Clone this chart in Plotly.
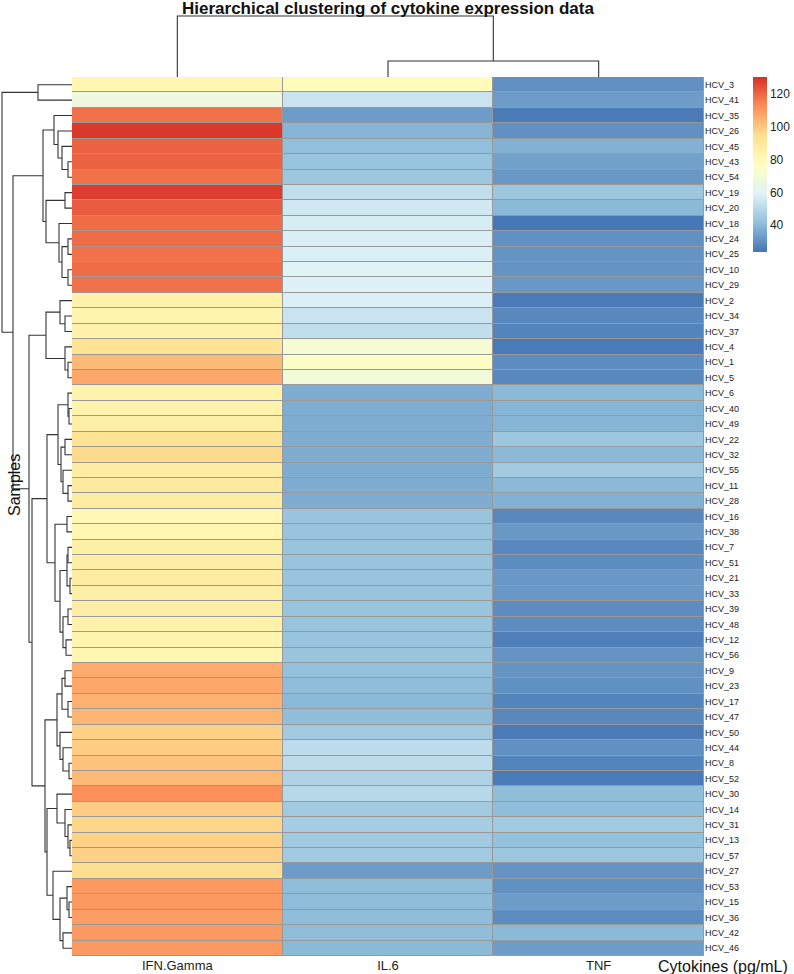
import plotly.graph_objects as go

W, H = 794, 974
FONT = "Liberation Sans, Arial, Helvetica, sans-serif"

# ---------------- data ----------------
samples = ["HCV_3", "HCV_41", "HCV_35", "HCV_26", "HCV_45", "HCV_43", "HCV_54", "HCV_19",
           "HCV_20", "HCV_18", "HCV_24", "HCV_25", "HCV_10", "HCV_29", "HCV_2", "HCV_34",
           "HCV_37", "HCV_4", "HCV_1", "HCV_5", "HCV_6", "HCV_40", "HCV_49", "HCV_22",
           "HCV_32", "HCV_55", "HCV_11", "HCV_28", "HCV_16", "HCV_38", "HCV_7", "HCV_51",
           "HCV_21", "HCV_33", "HCV_39", "HCV_48", "HCV_12", "HCV_56", "HCV_9", "HCV_23",
           "HCV_17", "HCV_47", "HCV_50", "HCV_44", "HCV_8", "HCV_52", "HCV_30", "HCV_14",
           "HCV_31", "HCV_13", "HCV_57", "HCV_27", "HCV_53", "HCV_15", "HCV_36", "HCV_42",
           "HCV_46"]
cytokines = ["IFN.Gamma", "IL.6", "TNF"]

ifn_gamma = [82, 67, 118, 129, 121, 121, 118, 128, 122, 119, 119, 118, 119, 118, 85, 83,
             85, 93, 103, 107, 84, 84, 86, 93, 96, 88, 89, 88, 81, 82, 86, 87,
             88, 86, 87, 85, 83, 82, 106, 107, 105, 104, 98, 99, 101, 103, 112, 99,
             97, 98, 98, 95, 110, 110, 109, 110, 110]
il_6 = [79, 54, 33, 39, 41.5, 43, 44, 52, 55.5, 57, 57.5, 58, 60, 58.5, 58, 54,
        52, 71, 75, 69, 37, 37, 37, 37, 37, 37, 37, 37, 43, 43, 43, 43,
        43, 43, 43, 43, 43, 43, 42, 41, 40, 41, 45, 51, 51, 48, 50, 45,
        46, 45, 45, 33, 41, 41, 41, 41, 40]
tnf = [30, 33, 25, 30, 38, 34, 32, 44, 40, 24, 30, 31, 31, 32, 25, 28,
       27, 25, 29, 28, 40, 39, 39, 44, 40, 45, 40, 38, 28, 32, 28, 29,
       32, 32, 29, 29, 26, 31, 31, 30, 27, 28, 25, 30, 27, 25, 41, 41,
       45, 42, 44, 31, 30, 33, 29, 40, 33]

z_min, z_max = 23.5, 130.5
colorbar_ticks = [40, 60, 80, 100, 120]
palette = ["#4575B4", "#91BFDB", "#E0F3F8", "#FFFFBF", "#FEE090", "#FC8D59", "#D73027"]

# clustering trees: (merge height, left, right); leaves are names
row_tree = (140,
            (68, "HCV_3", "HCV_41"),
            (118,
             (58,
              (36, "HCV_35", (28, "HCV_26", (20, "HCV_45", (8, "HCV_43", "HCV_54")))),
              (52, (14, "HCV_19", "HCV_20"),
               (26, "HCV_18", (20, (8, "HCV_24", "HCV_25"), (8, "HCV_10", "HCV_29"))))),
             (86,
              (52, (24, "HCV_2", (14, "HCV_34", "HCV_37")),
               (14, "HCV_4", (8, "HCV_1", "HCV_5"))),
              (80,
               (50,
                (28, (8, "HCV_6", (6, "HCV_40", "HCV_49")),
                 (22, (14, "HCV_22", "HCV_32"), (18, "HCV_55", (8, "HCV_11", "HCV_28")))),
                (34, (10, "HCV_16", "HCV_38"),
                 (24, (10, (8, "HCV_7", "HCV_51"), (4, "HCV_21", "HCV_33")),
                  (18, (8, "HCV_39", "HCV_48"), (12, "HCV_12", "HCV_56"))))),
               (54,
                (30, (20, (14, "HCV_9", "HCV_23"), (8, "HCV_17", "HCV_47")),
                 (24, "HCV_50", (18, "HCV_44", (6, "HCV_8", "HCV_52")))),
                (50, (30, "HCV_30", (14, "HCV_14", (8, "HCV_31", (4, "HCV_13", "HCV_57")))),
                 (38, "HCV_27", (24, (10, "HCV_53", (6, "HCV_15", "HCV_36")),
                                 (18, "HCV_42", "HCV_46")))))))))
col_tree = (61, "IFN.Gamma", (16, "IL.6", "TNF"))


def dendro(tree, order):
    pos = {name: i for i, name in enumerate(order)}
    ps, hs = [], []

    def walk(node):
        if isinstance(node, str):
            return pos[node], 0.0
        h, a, b = node
        p1, h1 = walk(a)
        p2, h2 = walk(b)
        ps.extend([p1, p1, p2, p2, None])
        hs.extend([h1, h, h, h2, None])
        return (p1 + p2) / 2.0, h

    walk(tree)
    return ps, hs


def fx(px):
    return px / W


def fy(px):
    return 1 - px / H


n = len(samples)
hm_x = [fx(72), fx(704)]
hm_y = [fy(956), fy(77)]

z = [[ifn_gamma[i], il_6[i], tnf[i]] for i in range(n)]
cscale = [[i / (len(palette) - 1), c] for i, c in enumerate(palette)]

fig = go.Figure()
fig.add_trace(go.Heatmap(
    z=z, x=list(range(3)), y=list(range(n)), zmin=z_min, zmax=z_max,
    colorscale=cscale, xgap=1, ygap=1, xaxis="x", yaxis="y",
    colorbar=dict(x=fx(753), xanchor="left", y=fy(77), yanchor="top",
                  len=175 / H, lenmode="fraction", thickness=14, thicknessmode="pixels",
                  xpad=0, ypad=0, outlinewidth=0, ticks="", tickvals=colorbar_ticks,
                  tickfont=dict(family=FONT, size=12, color="#222")),
))

rp, rh = dendro(row_tree, samples)
fig.add_trace(go.Scatter(x=rh, y=rp, mode="lines", line=dict(color="#333", width=1.1),
                         xaxis="x2", yaxis="y2", hoverinfo="skip", showlegend=False))
cp, ch = dendro(col_tree, cytokines)
fig.add_trace(go.Scatter(x=cp, y=ch, mode="lines", line=dict(color="#333", width=1.1),
                         xaxis="x3", yaxis="y3", hoverinfo="skip", showlegend=False))

fig.update_layout(
    width=W, height=H, margin=dict(l=0, r=0, t=0, b=0),
    paper_bgcolor="white", plot_bgcolor="white", showlegend=False,
    font=dict(family=FONT, color="#222"),
    xaxis=dict(domain=hm_x, range=[-0.5, 2.5], tickvals=[0, 1, 2], ticktext=cytokines,
               showgrid=False, zeroline=False, ticks="", showline=False, anchor="y",
               tickfont=dict(size=13, family=FONT, color="#222")),
    yaxis=dict(domain=hm_y, range=[n - 0.5, -0.5], tickvals=list(range(n)), ticktext=samples,
               side="right", showgrid=False, zeroline=False, ticks="", showline=False,
               anchor="x", tickfont=dict(size=9, family=FONT, color="#222")),
    xaxis2=dict(domain=[0, fx(72)], range=[144, 0], visible=False, anchor="y2"),
    yaxis2=dict(domain=hm_y, range=[n - 0.5, -0.5], visible=False, anchor="x2"),
    xaxis3=dict(domain=hm_x, range=[-0.5, 2.5], visible=False, anchor="y3"),
    yaxis3=dict(domain=[fy(77), fy(14)], range=[0, 63], visible=False, anchor="x3"),
    shapes=[dict(type="rect", xref="x", yref="y", x0=-0.5, x1=2.5, y0=-0.5, y1=n - 0.5,
                 fillcolor="#999999", line=dict(color="#999999", width=1), layer="below")],
    annotations=[
        dict(text="<b>Hierarchical clustering of cytokine expression data</b>",
             x=fx(388), y=1, xref="paper", yref="paper", xanchor="center", yanchor="top",
             yshift=3, showarrow=False, font=dict(size=17, family=FONT, color="#111")),
        dict(text="Samples", x=fx(14), y=fy(485), xref="paper", yref="paper",
             xanchor="center", yanchor="middle", textangle=-90, showarrow=False,
             font=dict(size=16, family=FONT, color="#111")),
        dict(text="Cytokines (pg/mL)", x=fx(790), y=fy(966), xref="paper", yref="paper",
             xanchor="right", yanchor="middle", showarrow=False,
             font=dict(size=16, family=FONT, color="#111")),
    ],
)

fig.write_html("out.html")
